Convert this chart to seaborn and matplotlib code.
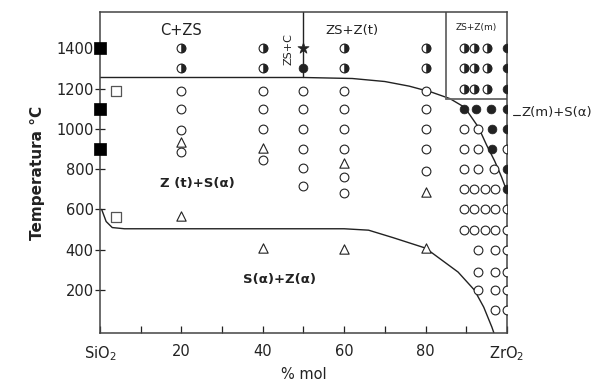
import matplotlib
matplotlib.use("Agg")
import matplotlib.pyplot as plt
from matplotlib.markers import MarkerStyle
import seaborn as sns
import pandas as pd

# --- data (x = % mol ZrO2, t = temperature °C) ---
sq_fill_x = [0, 0, 0]
sq_fill_t = [1400, 1100, 900]

sq_open_x = [4, 4]
sq_open_t = [1190, 560]

half_x = [20, 20, 40, 40, 60, 60, 80, 80,
          89.5, 92, 95, 89.5, 92, 95, 89.5, 92, 95, 100, 100]
half_t = [1400, 1300, 1400, 1300, 1400, 1300, 1400, 1300,
          1400, 1400, 1400, 1300, 1300, 1300, 1200, 1200, 1200, 900, 600]

fill_x = [100, 100, 100, 89.5, 92.5, 96, 100, 96.3, 100, 96.3, 100, 100, 50]
fill_t = [1400, 1300, 1200, 1100, 1100, 1100, 1100, 1000, 1000, 900, 800, 700, 1300]

open_x = [20, 20, 20, 20,
          40, 40, 40, 40,
          50, 50, 50, 50, 50, 50,
          60, 60, 60, 60, 60, 60,
          80, 80, 80, 80, 80,
          89.5, 93, 89.5, 93, 89.5, 93, 96.8,
          89.5, 92, 94.5, 97, 89.5, 92, 94.5, 97, 89.5, 92, 94.5, 97, 100,
          93, 97, 100, 93, 97, 100, 93, 97, 100, 97, 100]
open_t = [1190, 1100, 995, 885,
          1190, 1100, 1000, 845,
          1190, 1100, 1000, 900, 805, 715,
          1190, 1100, 1000, 900, 760, 680,
          1190, 1100, 1000, 900, 790,
          1000, 1000, 900, 900, 800, 800, 800,
          700, 700, 700, 700, 600, 600, 600, 600, 500, 500, 500, 500, 500,
          400, 400, 400, 290, 290, 290, 200, 200, 200, 100, 100]

tri_x = [20, 20, 40, 40, 60, 60, 80, 80]
tri_t = [935, 565, 905, 408, 830, 405, 685, 408]

star_x = [50]
star_t = [1400]

upper_x = [0, 50, 62, 70, 76, 81.5, 86, 89.6, 93, 95, 97, 98.7, 100]
upper_t = [1255, 1255, 1250, 1235, 1212, 1182, 1150, 1107, 1008, 920, 840, 760, 690]

lower_x = [0.4, 1.5, 3, 6, 30, 60, 66, 72, 80, 88, 92, 94.3, 96.3, 96.8]
lower_t = [600, 540, 510, 504, 504, 504, 497, 460, 408, 289, 200, 115, 16, -13]

xtick_vals = [0, 20, 40, 60, 80, 100]
xtick_labels = ["SiO$_2$", "20", "40", "60", "80", "ZrO$_2$"]
ytick_vals = [200, 400, 600, 800, 1000, 1200, 1400]

sns.set_style("ticks")
plt.rcParams["font.family"] = ["DejaVu Sans"]

fig, ax = plt.subplots(figsize=(6.1, 3.88), dpi=100)
fig.subplots_adjust(left=0.164, right=0.831, bottom=0.142, top=0.969)

ink = "#222222"

# phase boundaries
bounds = pd.DataFrame({"x": upper_x, "t": upper_t})
sns.lineplot(data=bounds, x="x", y="t", sort=False, estimator=None,
             color=ink, lw=1.0, ax=ax, zorder=2)
bounds = pd.DataFrame({"x": lower_x, "t": lower_t})
sns.lineplot(data=bounds, x="x", y="t", sort=False, estimator=None,
             color=ink, lw=1.0, ax=ax, zorder=2)

# region frames at the top
ax.plot([50, 50], [1255, 1600], color=ink, lw=1.0)
ax.plot([85, 85], [1150, 1600], color="#666666", lw=1.3)
ax.plot([85, 100], [1150, 1150], color="#666666", lw=1.3)

# markers
msize = 40
sns.scatterplot(x=open_x, y=open_t, marker="o", s=msize, color="white",
                edgecolor=ink, linewidth=0.8, ax=ax, zorder=3)
sns.scatterplot(x=half_x, y=half_t, marker="o", s=msize, color="white",
                edgecolor=ink, linewidth=0.8, ax=ax, zorder=3)
sns.scatterplot(x=half_x, y=half_t, marker=MarkerStyle("o", fillstyle="right"),
                s=msize, color=ink, edgecolor=ink, linewidth=0.4, ax=ax, zorder=4)
sns.scatterplot(x=fill_x, y=fill_t, marker="o", s=msize, color=ink,
                edgecolor=ink, linewidth=0.5, ax=ax, zorder=4)
sns.scatterplot(x=tri_x, y=tri_t, marker="^", s=45, color="white",
                edgecolor=ink, linewidth=0.8, ax=ax, zorder=3)
sns.scatterplot(x=sq_fill_x, y=sq_fill_t, marker="s", s=70, color="black",
                edgecolor="black", linewidth=0.5, ax=ax, zorder=5, clip_on=False)
sns.scatterplot(x=sq_open_x, y=sq_open_t, marker="s", s=55, color="white",
                edgecolor="#555555", linewidth=0.9, ax=ax, zorder=3)
sns.scatterplot(x=star_x, y=star_t, marker="*", s=70, color=ink,
                edgecolor=ink, linewidth=0.5, ax=ax, zorder=4)

# phase labels
ax.text(20, 1490, "C+ZS", ha="center", va="center", fontsize=10.5, color=ink)
ax.text(62, 1490, "ZS+Z(t)", ha="center", va="center", fontsize=9.5, color=ink)
ax.text(92.5, 1505, "ZS+Z(m)", ha="center", va="center", fontsize=6.5, color=ink)
ax.text(46.3, 1395, "ZS+C", ha="center", va="center", fontsize=8,
        rotation=90, color=ink)
ax.text(24, 730, "Z (t)+S(α)", ha="center", va="center", fontsize=9.5,
        fontweight="bold", color=ink)
ax.text(44, 250, "S(α)+Z(α)", ha="center", va="center", fontsize=9.5,
        fontweight="bold", color=ink)
ax.plot([101.5, 103.3], [1068, 1068], color=ink, lw=0.8, clip_on=False)
ax.text(103.6, 1083, "Z(m)+S(α)", ha="left", va="center", fontsize=9.5,
        color=ink, clip_on=False)

ax.set_xlim(0, 100)
ax.set_ylim(-13, 1580)
ax.set_xticks(xtick_vals)
ax.set_xticklabels(xtick_labels)
ax.set_xticks(list(range(10, 100, 20)), minor=True)
ax.set_yticks(ytick_vals)
ax.tick_params(axis="x", which="both", direction="in", length=5, width=0.9,
               labelsize=10.5, pad=8, colors=ink)
ax.tick_params(axis="y", direction="inout", length=7, width=0.9,
               labelsize=10.5, pad=1, colors=ink)
for sp in ax.spines.values():
    sp.set_linewidth(1.1)
    sp.set_color("#444444")

ax.set_xlabel("% mol", fontsize=10.5, labelpad=3, color=ink)
ax.set_ylabel("Temperatura °C", fontsize=11, fontweight="bold", labelpad=8, color=ink)

fig.savefig("out.png", dpi=100)
